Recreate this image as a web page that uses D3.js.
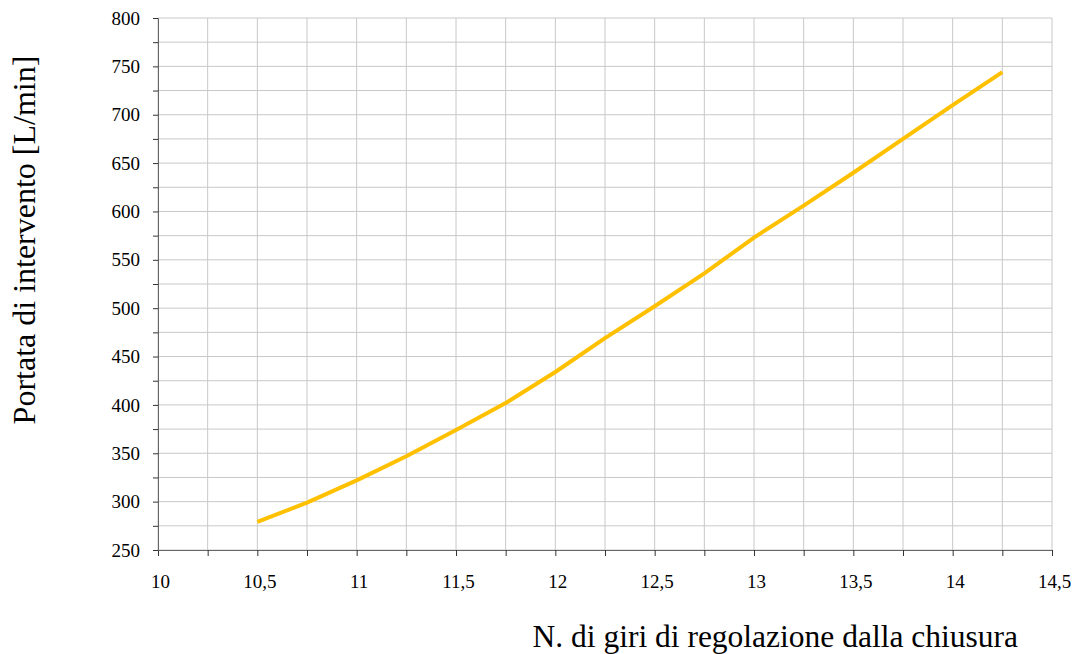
<!DOCTYPE html>
<html><head><meta charset="utf-8">
<script src="https://cdn.jsdelivr.net/npm/d3@7"></script>
<style>body{margin:0;background:#fff}svg{display:block}</style>
</head><body>
<svg id="c" width="1076" height="654"></svg>
<script>
const giri = [10.5,10.75,11,11.25,11.5,11.75,12,12.25,12.5,12.75,13,13.25,13.5,13.75,14,14.25];
const portata = [279,299,322,347,374,402,434,469,502,536,573,606,640,675,710,744];
const xTicks = [10,10.5,11,11.5,12,12.5,13,13.5,14,14.5];
const yTicks = [250,300,350,400,450,500,550,600,650,700,750,800];

const FONT = "Liberation Serif";
const svg = d3.select("#c");
const L=158,R=1052,T=18,B=550;
const x = d3.scaleLinear().domain([10,14.5]).range([L,R]);
const y = d3.scaleLinear().domain([250,800]).range([B,T]);
const fmt = d => String(d).replace(".", ",");

const xMinor = d3.range(10,14.5001,0.25);
const yMinor = d3.range(250,800.001,25);
const g = svg.append("g");
g.selectAll(".vg").data(xMinor).join("line")
 .attr("x1",d=>x(d)).attr("x2",d=>x(d)).attr("y1",T).attr("y2",B)
 .attr("stroke","#c8c8c8").attr("stroke-width",1);
g.selectAll(".hg").data(yMinor).join("line")
 .attr("x1",L).attr("x2",R).attr("y1",d=>y(d)).attr("y2",d=>y(d))
 .attr("stroke","#c8c8c8").attr("stroke-width",1);

const xAxis = svg.append("g").attr("transform",`translate(0,${B})`)
 .call(d3.axisBottom(x).tickValues(xMinor).tickSize(6).tickFormat(d=>xTicks.includes(d)?fmt(d):""));
const yAxis = svg.append("g").attr("transform",`translate(${L},0)`)
 .call(d3.axisLeft(y).tickValues(yMinor).tickSize(5).tickFormat(d=>yTicks.includes(d)?fmt(d):""));
[xAxis,yAxis].forEach(a=>{
  a.attr("font-family",FONT).attr("font-size",19);
  a.select(".domain").attr("stroke","#666");
  a.selectAll(".tick line").attr("stroke","#333");
  a.selectAll("text").attr("fill","#000");
});
xAxis.selectAll("text").attr("dy","1.53em").attr("dx","2");
yAxis.selectAll("text").attr("x",-18);

const line = d3.line().x((d,i)=>x(giri[i])).y(d=>y(d));
svg.append("path").datum(portata).attr("d",line)
 .attr("fill","none").attr("stroke","#FFC000").attr("stroke-width",4).attr("stroke-linejoin","round");

svg.append("text").attr("x",1018).attr("y",647).attr("text-anchor","end")
 .attr("font-family",FONT).attr("font-size",31.5).text("N. di giri di regolazione dalla chiusura");
svg.append("text").attr("transform","translate(35,240) rotate(-90)").attr("text-anchor","middle")
 .attr("font-family",FONT).attr("font-size",32).text("Portata di intervento [L/min]");
</script>
</body></html>
